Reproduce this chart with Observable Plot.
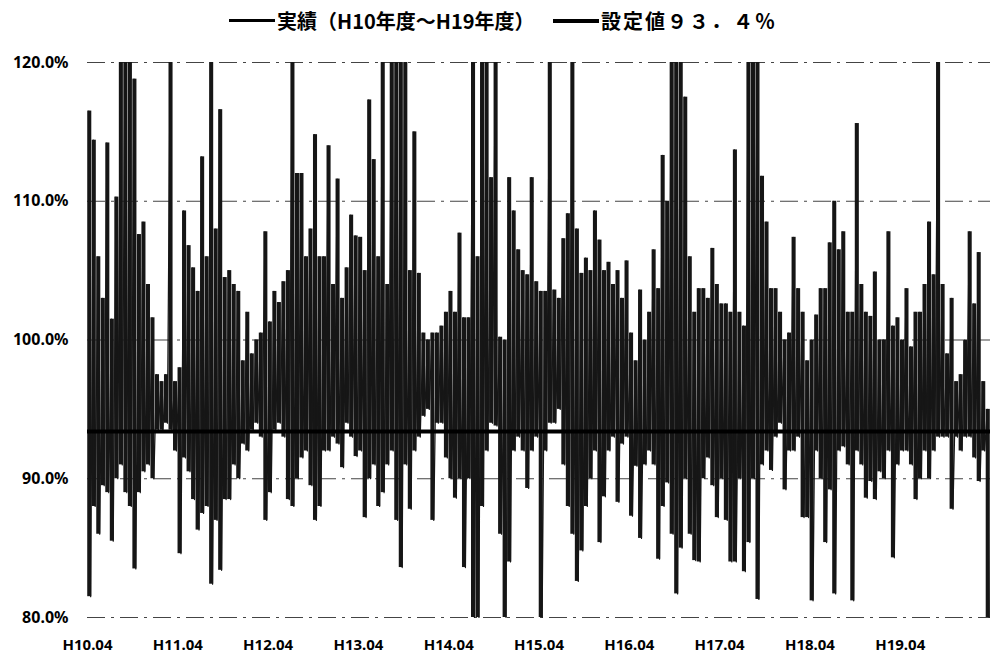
<!DOCTYPE html>
<html>
<head>
<meta charset="utf-8">
<script src="https://cdn.jsdelivr.net/npm/d3@7"></script>
<script src="https://cdn.jsdelivr.net/npm/@observablehq/plot@0.6"></script>
<style>
  html, body { margin: 0; padding: 0; background: #fff; }
  #wrap { width: 991px; height: 663px; position: relative; overflow: hidden; }
  #legend { position: relative; height: 40px; font-family: "Noto Sans CJK JP", "Noto Sans", sans-serif; font-weight: bold; font-size: 20px; color: #000; }
  .item { position: absolute; top: 6px; display: flex; align-items: center; white-space: nowrap; }
  .swatch { display: inline-block; width: 46px; background: #000; margin-right: 2px; }
</style>
</head>
<body>
<div id="wrap">
  <div id="legend">
    <div class="item" style="left:229px"><span class="swatch" style="height:3px"></span><span id="lab1"></span></div>
    <div class="item" style="left:553px"><span class="swatch" style="height:4px"></span><span id="lab2" style="letter-spacing:2px"></span></div>
  </div>
  <div id="chart"></div>
</div>
<script>
// Legend texts
const seriesName = "実績（H10年度～H19年度）";
const setName = "設定値９３．４％";
const setValue = 93.4;

// Year tick labels (fiscal year start, April)
const yearLabels = ["H10.04","H11.04","H12.04","H13.04","H14.04","H15.04","H16.04","H17.04","H18.04","H19.04"];
const yTicks = [80, 90, 100, 110, 120];

// Envelope of the daily series: 20 slices per fiscal year,
// highest and lowest value reached in each slice (%)
const hiH10 = [116.5,114.4,106,103,114.2,101.5,110.3,120,120,120,118.8,107.6,108.5,104,101.6,97.5,97,97.5,120,97];
const loH10 = [81.5,88,86,89.5,89,85.5,90,91,89,88,83.5,89,90.5,91,90,93.5,93.5,94,93.5,92];
const hiH11 = [98,109.3,106.8,105.2,103.5,113.2,106,120,108,116.6,104.5,105,104,103.5,98.5,102,99,100,100.5,107.8];
const loH11 = [84.6,91.5,90.5,88.5,86.3,87.5,88,82.4,87,83.4,88.5,88.5,91,90,92.5,92,93.5,94,93,87];
const hiH12 = [101.3,103.5,102.7,104.2,105,120,112,112,106,108,114.8,106,106,114,104,111.6,103,105.2,109,107.5];
const loH12 = [89,93.5,94,93,88.5,88,90,91.5,92,89.5,87,88,92,92,93,92.5,90.8,94,93,91.6];
const hiH13 = [107.4,105,117.3,113,106,120,104,120,120,120,120,105,115,104.8,100.5,100,100.5,100.5,101,102];
const loH13 = [92,87.2,90,91,88,89,91,92,87,83.6,91,87.8,92,93,94.5,95,87,94,94,91.5];
const hiH14 = [103.5,102,107.7,101.6,101.6,120,106,120,120,111.7,120,100.2,100,111.7,109.3,106.5,105,104.7,111.7,104.2];
const loH14 = [90,88.6,90,83.6,90,80,80,88,92,94,93.8,86,80,84,92,93,92,89.3,92,93];
const hiH15 = [103.5,103.5,120,103.6,103,107.3,109.1,120,108,104.8,105.9,105,109.3,107.2,105,105.6,104,105,103,105.7];
const loH15 = [80,92,94,94,95,91,88,86,82.6,84.8,88,90,92,85.4,88.7,92,93,88.3,92.5,93];
const hiH16 = [100.5,98.5,103.6,100,102,106.5,103.7,113.3,110,120,120,120,117.5,106,102,103.7,103.7,103,106.6,104];
const loH16 = [87.3,90.9,85.7,91,92,91,84.2,88,89.7,86,81.7,85,90,86,84.1,84,90,91.5,89.5,87.2];
const hiH17 = [102.6,102.6,102,113.7,102,101,120,120,120,111.8,108.5,103.7,103.7,102,100,100.5,107.4,103.7,102,98.5];
const loH17 = [90,87,84,84,90,83.3,85.4,90,81.3,91,92,90.6,93,94,89.2,92,92,93,87.2,87.2];
const hiH18 = [100,101.8,103.7,103.7,107,110,106.5,107.8,102,102,115.6,104,102,101.7,104.9,100,100,107.8,101,101.6];
const loH18 = [81.2,92,90,85.4,89.2,81.7,92,92.3,91,81.2,92,91,88.6,89.8,88.5,90.5,90,92,84.3,91];
const hiH19 = [100,103.7,99.5,102,102,104,108.5,104.7,120,104,99,103,97,97.5,100,107.8,102.6,106.3,97,95];
const loH19 = [92,92,91,88.5,90,92,90,92,93,93,93,87.8,93,92,93,93,91.5,89.8,92,80];

const his = [hiH10,hiH11,hiH12,hiH13,hiH14,hiH15,hiH16,hiH17,hiH18,hiH19];
const los = [loH10,loH11,loH12,loH13,loH14,loH15,loH16,loH17,loH18,loH19];

document.getElementById("lab1").textContent = seriesName;
document.getElementById("lab2").textContent = setName;

// Slices (one per envelope value) and the line that visits each high then low
const slices = [];
const data = [];
his.forEach((hi, k) => {
  const n = hi.length;
  hi.forEach((h, j) => {
    const t = k + j / n;
    const l = los[k][j];
    slices.push({t1: t + 0.05 / n, t2: t + 0.95 / n, hi: h, lo: l});
    data.push({t: t + 0.3 / n, v: h});
    data.push({t: t + 0.7 / n, v: l});
  });
});

const chart = Plot.plot({
  width: 991,
  height: 623,
  marginTop: 22,
  marginBottom: 46,
  marginLeft: 87,
  marginRight: 1,
  style: {fontFamily: "'Noto Sans', sans-serif", fontWeight: "bold", color: "#000", background: "#fff"},
  x: {domain: [0, 10], label: null},
  y: {domain: [80, 120], label: null},
  marks: [
    Plot.ruleY(yTicks, {stroke: "#444", strokeWidth: 1.1, strokeDasharray: "18,6,3,6"}),
    Plot.rect(slices, {x1: "t1", x2: "t2", y1: "lo", y2: "hi", fill: "#161616"}),
    Plot.line(data, {x: "t", y: "v", stroke: "#161616", strokeWidth: 1.2}),
    Plot.ruleY([setValue], {stroke: "#000", strokeWidth: 4}),
    Plot.axisX(d3.range(yearLabels.length), {tickFormat: d => yearLabels[d], tickSize: 0, tickPadding: 22, fontSize: 15, label: null}),
    Plot.axisY(yTicks, {tickFormat: d => d.toFixed(1) + "%", tickSize: 0, tickPadding: 19, fontSize: 16, label: null})
  ]
});
document.getElementById("chart").appendChild(chart);
</script>
</body>
</html>
